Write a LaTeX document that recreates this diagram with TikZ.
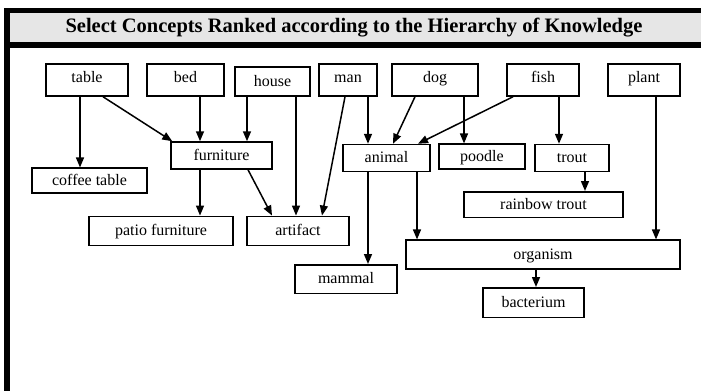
\documentclass[tikz,border=0pt]{standalone}
\usepackage{fontspec}
\setmainfont{Liberation Serif}
\usetikzlibrary{arrows.meta,calc}

\tikzset{every picture/.style={line width=1.5pt}}
\tikzset{
concept/.style={draw, rectangle, inner sep=0pt, minimum height=32pt, text height=11pt, text depth=2pt, font=\fontsize{16}{19}\selectfont},
topconcept/.style={concept, text depth=5.6pt},
isa/.style={-{Triangle[length=10pt,width=8pt]}}
}

\begin{document}
\begin{tikzpicture}[x=1pt,y=1pt,yscale=-1,xscale=1]
\useasboundingbox (0,0) rectangle (701,391);

%Title band
\fill [color={rgb, 255:red, 230; green, 230; blue, 230 }] (7,10.5) rectangle (701,45);
\draw [line width=5.5pt] (701,10.5) -- (7,10.5) -- (7,391) ;
\draw [line width=6pt] (7,45) -- (701,45) ;
\node (title) at (354,28) {\fontsize{20.5}{24}\selectfont\bfseries Select Concepts Ranked according to the Hierarchy of Knowledge};

% Top row
\node [topconcept, minimum width=82pt] (table) at (87,80) {table};
\node [topconcept, minimum width=77pt] (bed) at (185.5,80) {bed};
\node [concept, minimum width=75pt, minimum height=29pt] (house) at (272.5,81.5) {house};
\node [topconcept, minimum width=58pt] (man) at (348,80) {man};
\node [topconcept, minimum width=86pt] (dog) at (435,80) {dog};
\node [topconcept, minimum width=72pt] (fish) at (543,80) {fish};
\node [topconcept, minimum width=72pt] (plant) at (644,80) {plant};

% Second row
\node [concept, minimum width=101pt, minimum height=27pt] (furniture) at (221.5,155.5) {furniture};
\node [concept, minimum width=115pt, minimum height=25pt] (coffee) at (89.5,180.7) {coffee table};
\node [concept, minimum width=87pt, minimum height=27pt] (animal) at (386.5,158) {animal};
\node [concept, minimum width=86pt, minimum height=25pt] (poodle) at (482,156.7) {poodle};
\node [concept, minimum width=74pt, minimum height=27pt] (trout) at (572,158) {trout};
\node [concept, minimum width=159pt, minimum height=25.5pt] (rainbow) at (543.5,204.5) {rainbow trout};

% Lower rows
\node [concept, minimum width=144pt, minimum height=29pt] (patio) at (161,230.8) {patio furniture};
\node [concept, minimum width=102pt, minimum height=29pt] (artifact) at (298,230.8) {artifact};
\node [concept, minimum width=274pt, minimum height=29pt] (organism) at (543,254.7) {organism};
\node [concept, minimum width=102pt, minimum height=28.5pt] (mammal) at (346,279) {mammal};
\node [concept, minimum width=101pt, minimum height=29.5pt] (bacterium) at (533.5,302.5) {bacterium};

% Links
\draw [isa] ([xshift=-7pt]table.south) -- ([xshift=-9.5pt]coffee.north) ;
\draw [isa] ([xshift=16pt]table.south) -- ([xshift=2pt]furniture.north west) ;
\draw [isa] ([xshift=14.5pt]bed.south) -- ([xshift=-21.5pt]furniture.north) ;
\draw [isa] ([xshift=-25.5pt]house.south) -- ([xshift=25.5pt]furniture.north) ;
\draw [isa] ([xshift=23.5pt]house.south) -- ([xshift=-2pt]artifact.north) ;
\draw [isa] ([xshift=-21.5pt]furniture.south) -- ([xshift=39pt]patio.north) ;
\draw [isa] ([xshift=26.5pt]furniture.south) -- ([xshift=-26pt]artifact.north) ;
\draw [isa] ([xshift=-3pt]man.south) -- ([xshift=24pt]artifact.north) ;
\draw [isa] ([xshift=20pt]man.south) -- ([xshift=-18.5pt]animal.north) ;
\draw [isa] ([xshift=-20pt]dog.south) -- ([xshift=6.5pt]animal.north) ;
\draw [isa] ([xshift=-30pt]fish.south) -- ([xshift=31.5pt]animal.north) ;
\draw [isa] ([xshift=29pt]dog.south) -- ([xshift=-18pt]poodle.north) ;
\draw [isa] ([xshift=16pt]fish.south) -- ([xshift=-13pt]trout.north) ;
\draw [isa] ([xshift=13pt]trout.south) -- ([xshift=41.5pt]rainbow.north) ;
\draw [isa] ([xshift=-18.5pt]animal.south) -- ([xshift=22pt]mammal.north) ;
\draw [isa] ([xshift=30.5pt]animal.south) -- ([xshift=-126pt]organism.north) ;
\draw [isa] ([xshift=12pt]plant.south) -- ([xshift=113pt]organism.north) ;
\draw [isa] ([xshift=-7pt]organism.south) -- ([xshift=2.5pt]bacterium.north) ;

\end{tikzpicture}
\end{document}
